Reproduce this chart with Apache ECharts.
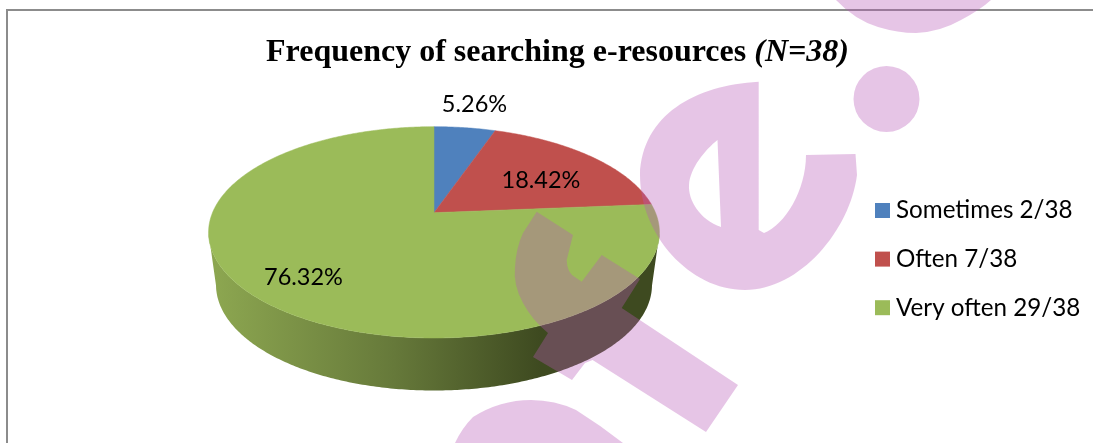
<!DOCTYPE html>
<html><head><meta charset="utf-8">
<style>html,body{margin:0;padding:0;background:#fff}#c{width:1093px;height:443px}</style>
<script src="https://cdn.jsdelivr.net/npm/echarts@6/dist/echarts.min.js"></script>
</head><body><div id="c"></div>
<script>
const categories = ['Sometimes 2/38', 'Often 7/38', 'Very often 29/38'];
const counts = [2, 7, 29];
const percentLabels = ['5.26%', '18.42%', '76.32%'];
const colors = ['#4F81BD', '#C0504D', '#9BBB59'];

// Projective view of the tilted disc
const view = {cx: 434, cy: 212.7, A: 221.5, B: 102, k: -0.186, depthY: 52.5, depthScale: 0.967, midY: 232.5};
const labelAt = [[474.5, 104], [541, 180], [303.5, 277]];
const total = counts.reduce((a, b) => a + b, 0);

function project(theta) {
  const u = Math.sin(theta), v = -Math.cos(theta), w = 1 + view.k * v;
  return [view.cx + view.A * u / w, view.cy + view.B * v / w];
}
function lower(p) {
  return [view.cx + (p[0] - view.cx) * view.depthScale, p[1] + view.depthY];
}
function renderSlice(index) {
  return function (params, api) {
    const value = api.value(0);
    let before = 0;
    for (let i = 0; i < index; i++) before += counts[i];
    const a0 = before / total * Math.PI * 2, a1 = (before + value) / total * Math.PI * 2;
    const n = Math.max(8, Math.ceil((a1 - a0) * 90));
    const arc = [];
    for (let i = 0; i <= n; i++) arc.push(project(a0 + (a1 - a0) * i / n));
    const children = [];
    const front = arc.filter(p => p[1] >= view.midY);
    if (front.length > 1) {
      children.push({
        type: 'polygon',
        shape: {points: front.concat(front.slice().reverse().map(lower))},
        style: {fill: {type: 'linear', global: true, x: 216, y: 0, x2: 540, y2: 0,
          colorStops: [{offset: 0, color: '#8CA650'}, {offset: 0.55, color: '#66793A'}, {offset: 1, color: '#3E4A20'}]}}
      });
    }
    children.push({
      type: 'polygon',
      shape: {points: [[view.cx, view.cy]].concat(arc)},
      style: {fill: colors[index], stroke: colors[index], lineWidth: 0.5}
    });
    children.push({
      type: 'text',
      style: {x: labelAt[index][0], y: labelAt[index][1], text: percentLabels[index], fill: '#000',
        font: '23.5px Lato', align: 'center', verticalAlign: 'middle'}
    });
    return {type: 'group', children};
  };
}

const watermark = 'M758.7 81.7 C695 85 642 115 640 175 C640 235 690 290 745 290 C800 290 850 230 857 175 L855.5 154 L806 155 C806 190 785 225 764 233 L758.7 230 Z ' +
  'M717.5 140 L721 227 C700 220 688 200 689 185 C690 168 705 150 717.5 140 Z ' +
  'M536.7 211.7 L573 235 L566.7 260 Q567 270 572 275 L581.7 281.7 L601.7 255 L640 279 L621.7 308 L738 385 L706 432 L592.6 360 L585 363 L572 380 L533 357 L548 333 Q532 320 523 303 Q513 285 515 267 Q516 248 523 233 Z ' +
  'M836 0 Q855 20 878 27 Q898 33 916 33 Q940 32 961 20 Q980 10 991 0 Z ' +
  'M455 443 Q462 428 473 417 Q500 400 531 400 Q555 400 576 410 Q600 425 623 443 Z ' +
  'M919.5 99 A33 33 0 1 1 853.5 99 A33 33 0 1 1 919.5 99 Z';

const chart = echarts.init(document.getElementById('c'), null, {renderer: 'canvas'});
chart.setOption({
  animation: false,
  color: colors,
  title: {
    text: '{b|Frequency of searching e-resources }{i|(N=38)}',
    left: 266, top: 37, padding: 0,
    textStyle: {rich: {
      b: {fontFamily: 'Liberation Serif', fontWeight: 'bold', fontSize: 32, color: '#000'},
      i: {fontFamily: 'Liberation Serif', fontWeight: 'bold', fontStyle: 'italic', fontSize: 32, color: '#000'}
    }}
  },
  legend: {
    orient: 'vertical', left: 875, top: 198.5, padding: 0,
    itemWidth: 15, itemHeight: 15, itemGap: 24.6, icon: 'rect',
    textStyle: {fontFamily: 'Lato', fontSize: 24.2, color: '#000', padding: [0, 0, 0, 1], height: 15, lineHeight: 15},
    data: categories
  },
  graphic: [
    {type: 'rect', z: 1, shape: {x: 6, y: 9, width: 1087, height: 2}, style: {fill: '#8C8C8C'}},
    {type: 'rect', z: 1, shape: {x: 6, y: 9, width: 2, height: 434}, style: {fill: '#8C8C8C'}}
  ],
  series: categories.map((name, i) => ({
    type: 'custom', name, coordinateSystem: 'none', z: 2,
    itemStyle: {color: colors[i]},
    renderItem: renderSlice(i),
    data: [[counts[i]]]
  })).concat([{
    type: 'custom', name: 'watermark', coordinateSystem: 'none', z: 100, silent: true,
    renderItem: () => ({type: 'path', shape: {pathData: watermark}, style: {fill: 'rgba(183,89,183,0.35)'}}),
    data: [[0]]
  }])
});
</script></body></html>
